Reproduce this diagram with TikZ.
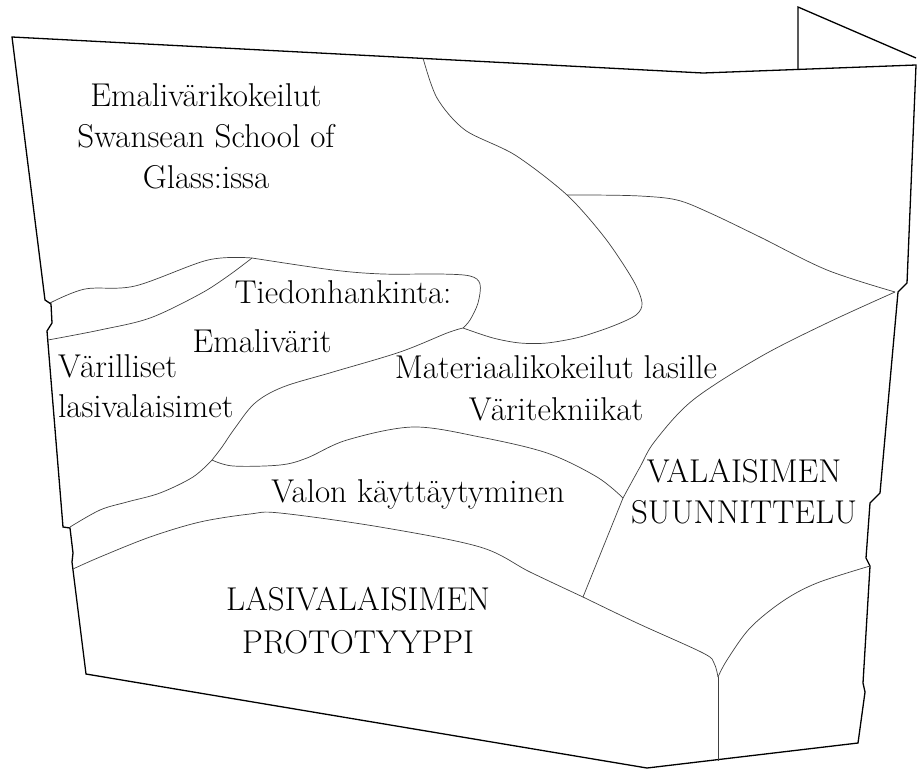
\documentclass[tikz,border=0pt]{standalone}
\begin{document}
\begin{tikzpicture}[x=1pt,y=-1pt,
  outer/.style={draw=black,line width=1.3pt,line join=miter},
  inner/.style={draw=black!75,line width=0.7pt},
  lbl/.style={font=\fontsize{33}{41}\selectfont,inner sep=0pt,anchor=base},
  lblw/.style={lbl,anchor=base west}]
\useasboundingbox (0,0) rectangle (917,769);
% junctions
\coordinate (J1) at (212,460);
\coordinate (J2) at (463,328);
\coordinate (J3) at (623,498);
\coordinate (J4) at (583,597);
\coordinate (J5) at (895,292);
\coordinate (J6) at (252,258);
\coordinate (J7) at (718,677);
\coordinate (JB) at (567,195);
\coordinate (Jbot) at (718,761);
% outer border
\draw[outer] (12,37) -- (703,73) -- (916,65) -- (907,283) -- (898,292) -- (880,493)
  -- (870,503) -- (866,558) -- (870,566) -- (863,683) -- (865,692) -- (858,743)
  -- (647,768) -- (86,674) -- (72,562) -- (73,553) -- (70,528) -- (63,527)
  -- (47,331) -- (52,323) -- (51,304) -- (45,300) -- cycle;
% flap
\draw[outer] (798,69) -- (798,7) -- (916,58);
% upper band curve and blob top
\draw[inner] plot[smooth,tension=0.55] coordinates {(50,303) (85,289) (135,286) (208,260) (J6)};
\draw[inner] plot[smooth,tension=0.55] coordinates {(J6) (333,270) (383,274) (440,274) (470,276) (480,284) (478,303) (470,320) (J2)};
% lower band curve
\draw[inner] plot[smooth,tension=0.55] coordinates {(48,340) (100,330) (150,318) (200,294) (228,276) (J6)};
% blob lower boundary
\draw[inner] plot[smooth,tension=0.55] coordinates {(J2) (447,333) (400,352) (333,372) (283,387) (255,403) (235,428) (222,447) (J1)};
% C1 to left edge
\draw[inner] plot[smooth,tension=0.55] coordinates {(J1) (193,477) (160,493) (127,502) (100,510) (70,527)};
% Valon top
\draw[inner] plot[smooth,tension=0.55] coordinates {(J1) (233,466) (280,465) (307,458) (347,440) (413,427) (480,437) (547,453) (597,477) (J3)};
% J4 - J3 - J5
\draw[inner] (J4) -- (J3);
\draw[inner] plot[smooth,tension=0.55] coordinates {(J3) (640,467) (655,441) (693,400) (760,357) (827,323) (J5)};
% Valon bottom
\draw[inner] plot[smooth,tension=0.55] coordinates {(73,569) (100,557) (150,537) (200,522) (250,514) (280,513) (380,527) (480,547) (530,572) (J4)};
\draw[inner] plot[smooth,tension=0.55] coordinates {(J4) (637,623) (703,653) (714,663) (J7)};
% vertical and right curve
\draw[inner] (J7) -- (Jbot);
\draw[inner] plot[smooth,tension=0.55] coordinates {(J7) (727,660) (750,628) (783,601) (817,583) (870,566)};
% big curve
\draw[inner] plot[smooth,tension=0.5] coordinates {(423,58) (437,98) (465,130) (515,155) (JB) (605,238) (633,280) (642,303) (636,315) (613,326) (580,337) (547,343) (520,343) (493,338) (J2)};
% branch to J5
\draw[inner] plot[smooth,tension=0.55] coordinates {(JB) (593,195) (640,196) (677,200) (710,213) (760,237) (827,270) (J5)};
% labels
\node[lbl] (t1) at (206,106) {Emalivärikokeilut};
\node[lbl] (t2) at (206,147) {Swansean School of};
\node[lbl] (t3) at (206,188) {Glass:issa};
\node[lbl] (t4) at (343,303) {Tiedonhankinta:};
\node[lbl] (t5) at (262,352) {Emalivärit};
\node[lblw] (t6) at (58,377) {Värilliset};
\node[lblw] (t7) at (58,417) {lasivalaisimet};
\node[lbl] (t8) at (556,378) {Materiaalikokeilut lasille};
\node[lbl] (t9) at (556,420) {Väritekniikat};
\node[lbl] (t10) at (418,502) {Valon käyttäytyminen};
\node[lbl] (t11) at (744,482) {VALAISIMEN};
\node[lbl] (t12) at (744,523) {SUUNNITTELU};
\node[lbl] (t13) at (358,610) {LASIVALAISIMEN};
\node[lbl] (t14) at (358,653) {PROTOTYYPPI};
\end{tikzpicture}
\end{document}
